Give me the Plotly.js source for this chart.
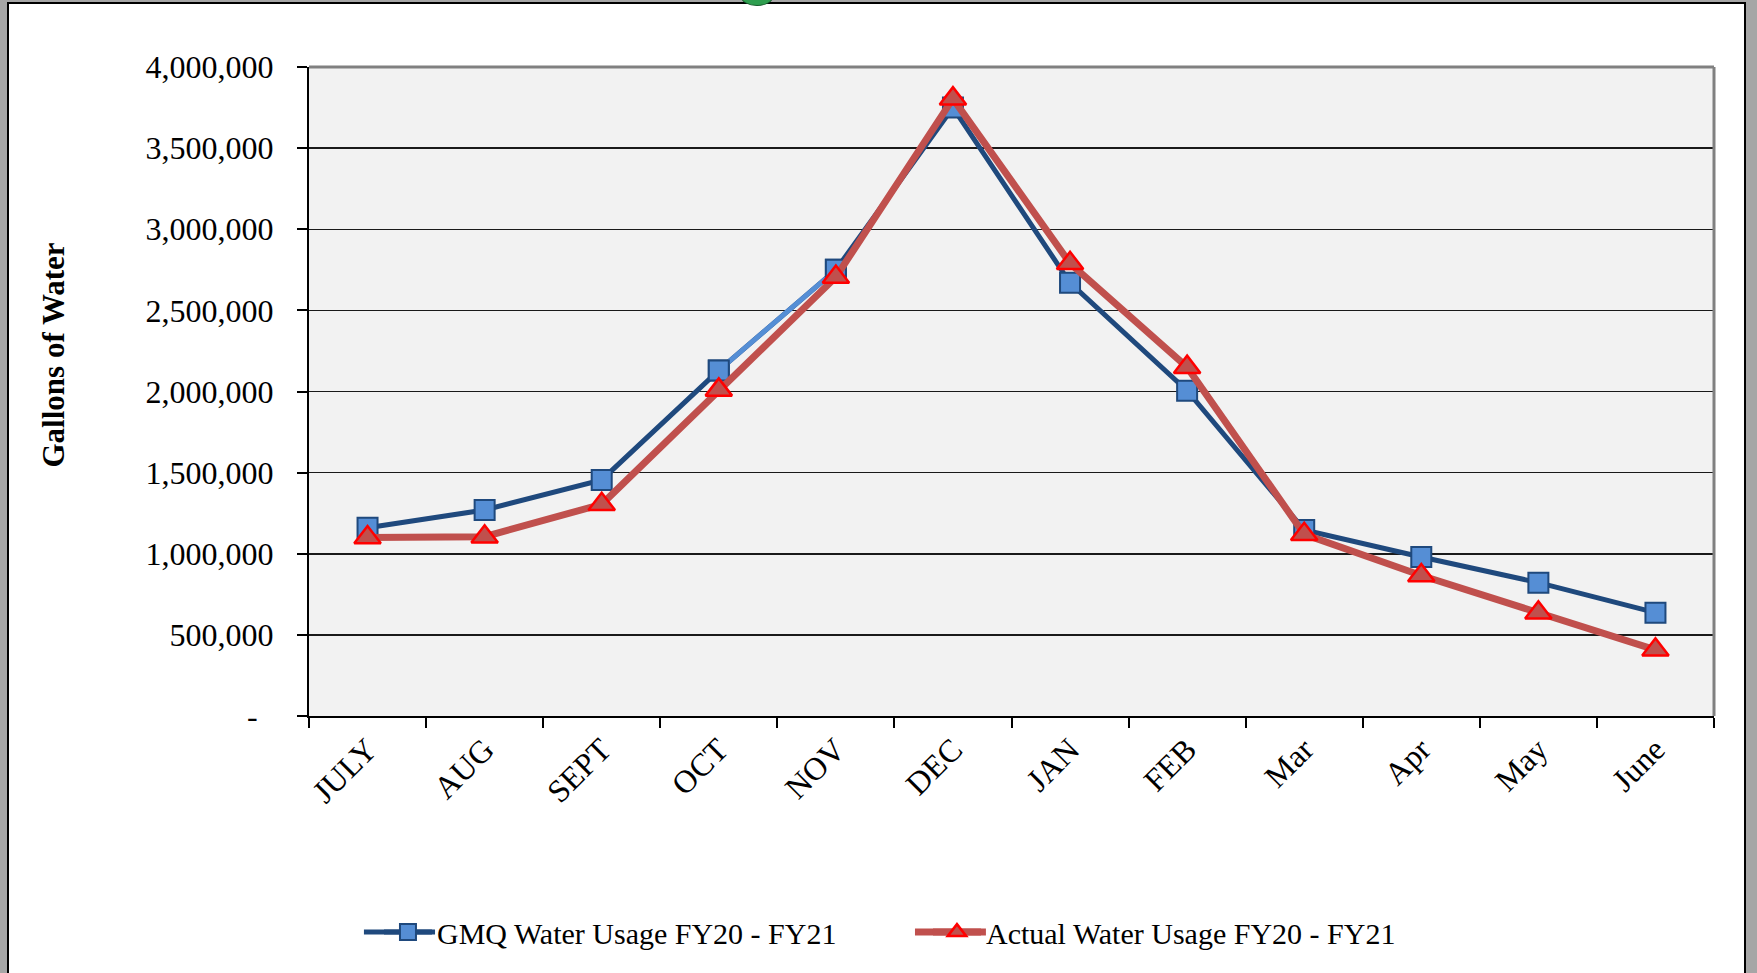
<!DOCTYPE html>
<html>
<head>
<meta charset="utf-8">
<script src="https://cdn.plot.ly/plotly-3.0.1.min.js"></script>
<style>
  html, body { margin: 0; padding: 0; width: 1757px; height: 973px; overflow: hidden; background: #a6a6a6; }
  #frame { position: absolute; left: 7px; top: 2px; width: 1739px; height: 1000px; box-sizing: border-box; border: 2px solid #000; background: #fff; }
  #blob { position: absolute; left: 741px; top: -12px; width: 30px; height: 16px; border-radius: 50%; background: #2e9e4f; border: 1px solid #145a2a; }
  #chart { position: absolute; left: 0; top: 0; width: 1757px; height: 973px; }
</style>
</head>
<body>
<div id="frame"></div>
<div id="blob"></div>
<div id="chart"></div>
<script>
const months = ['JULY', 'AUG', 'SEPT', 'OCT', 'NOV', 'DEC', 'JAN', 'FEB', 'Mar', 'Apr', 'May', 'June'];
const gmqUsage = [1160000, 1270000, 1455000, 2130000, 2750000, 3750000, 2670000, 2005000, 1147000, 980000, 822000, 637000];
const actualUsage = [1100000, 1105000, 1305000, 2010000, 2705000, 3805000, 2790000, 2150000, 1120000, 866000, 636000, 408000];
const yTickVals = [0, 500000, 1000000, 1500000, 2000000, 2500000, 3000000, 3500000, 4000000];
const yTickText = ['-\u00a0\u00a0', '500,000', '1,000,000', '1,500,000', '2,000,000', '2,500,000', '3,000,000', '3,500,000', '4,000,000'];
const gmqName = 'GMQ Water Usage FY20 - FY21';
const actualName = 'Actual Water Usage FY20 - FY21';

const serif = '"Times New Roman", "Liberation Serif", serif';
const gmqColor = '#1F497D';
const actualColor = '#C0504D';
const gmqMarker = { symbol: 'square', size: 20, color: '#558ED5', line: { color: gmqColor, width: 2 } };

const traces = [
  {
    x: months, y: gmqUsage, name: gmqName, type: 'scatter', mode: 'lines+markers',
    line: { color: gmqColor, width: 5 }, marker: gmqMarker
  },
  {
    x: months.slice(3, 5), y: gmqUsage.slice(3, 5), type: 'scatter', mode: 'lines',
    line: { color: '#558ED5', width: 5 }, showlegend: false, hoverinfo: 'skip'
  },
  {
    x: months.slice(3, 5), y: gmqUsage.slice(3, 5), type: 'scatter', mode: 'markers',
    marker: gmqMarker, showlegend: false, hoverinfo: 'skip'
  },
  {
    x: months, y: actualUsage, name: actualName, type: 'scatter', mode: 'lines+markers',
    line: { color: actualColor, width: 7 },
    marker: { symbol: 'triangle-up', size: 23, color: actualColor, line: { color: '#FF0000', width: 2.5 } }
  }
];

const legY = -0.333;
const layout = {
  width: 1757, height: 973,
  margin: { l: 309, r: 43, t: 67, b: 257 },
  paper_bgcolor: 'rgba(0,0,0,0)',
  plot_bgcolor: '#F2F2F2',
  font: { family: serif, color: '#000' },
  showlegend: true,
  legend: {
    orientation: 'h', x: 0.0498, xanchor: 'left', y: legY, yanchor: 'middle',
    font: { family: serif, size: 30, color: '#000' }, bgcolor: 'rgba(0,0,0,0)',
    itemwidth: 48, entrywidth: 486
  },
  xaxis: {
    type: 'category', categoryorder: 'array', categoryarray: months,
    range: [-0.5, 11.5], showgrid: false, zeroline: false,
    showline: true, linecolor: '#000', linewidth: 2,
    ticks: 'outside', tickson: 'boundaries', ticklen: 10, tickcolor: '#000', tickwidth: 2,
    tickangle: -45, tickfont: { family: serif, size: 32, color: '#000' }
  },
  yaxis: {
    range: [0, 4000000], tickmode: 'array', tickvals: yTickVals, ticktext: yTickText,
    showgrid: true, gridcolor: '#1a1a1a', gridwidth: 1.5, zeroline: false,
    showline: true, linecolor: '#000', linewidth: 2,
    ticks: 'outside', ticklen: 10, tickcolor: '#000', tickwidth: 2,
    ticklabelstandoff: 17,
    tickfont: { family: serif, size: 32, color: '#000' }
  },
  shapes: [
    { type: 'line', xref: 'paper', yref: 'paper', x0: 0, x1: 1, y0: 1, y1: 1, line: { color: '#808080', width: 3 }, layer: 'above' },
    { type: 'line', xref: 'paper', yref: 'paper', x0: 1, x1: 1, y0: 0, y1: 1, line: { color: '#808080', width: 3 }, layer: 'above' },
    { type: 'line', xref: 'paper', yref: 'paper', x0: 0.0391, x1: 0.0897, y0: legY, y1: legY, line: { color: gmqColor, width: 5 } },
    { type: 'line', xref: 'paper', yref: 'paper', x0: 0.4313, x1: 0.4818, y0: legY, y1: legY, line: { color: actualColor, width: 7 } }
  ],
  annotations: [
    {
      text: '<b>Gallons of Water</b>', xref: 'paper', yref: 'paper', x: -0.1815, y: 0.557,
      xanchor: 'center', yanchor: 'middle', textangle: -90, showarrow: false,
      font: { family: serif, size: 31, color: '#000' }
    }
  ]
};

Plotly.newPlot('chart', traces, layout, { displayModeBar: false, staticPlot: true });
</script>
</body>
</html>
